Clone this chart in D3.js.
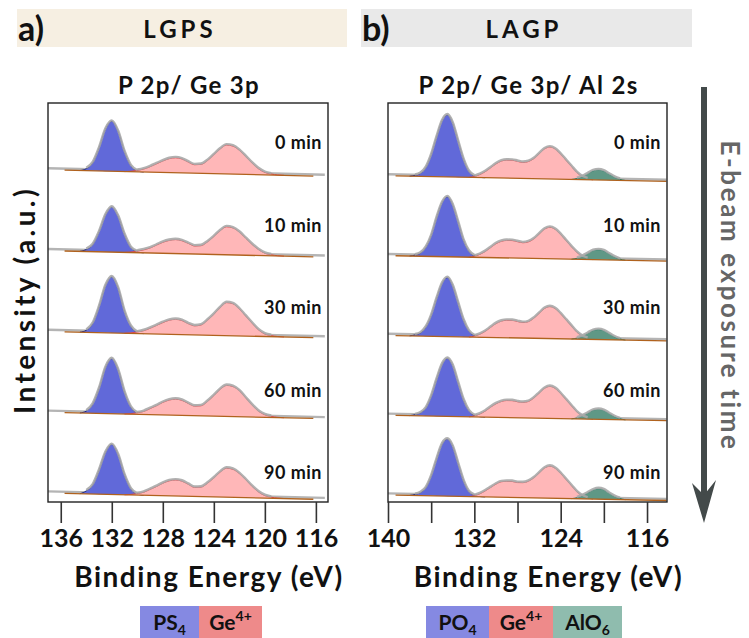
<!DOCTYPE html>
<html>
<head>
<meta charset="utf-8">
<script src="https://cdn.jsdelivr.net/npm/d3@7"></script>
<style>
  body { margin: 0; background: #fff; }
  svg text { font-family: Lato, "Noto Sans", sans-serif; font-weight: 700; }
</style>
</head>
<body>
<div id="chart"></div>
<script>
// exposure times, top to bottom
const times = ["0 min", "10 min", "30 min", "60 min", "90 min"];

// x axis ticks
const ticksA = [136, 132, 128, 124, 120, 116];
const ticksB = [140, 136, 132, 128, 124, 120, 116];
const labelsB = [140, 132, 124, 116];

// LGPS: measured range, background (left/right end) and fitted components
const rangeA = [137, 115.3];
const bgRangeA = [135.7, 116.2];
const bgA = [9, 2.5];

const ps4Energy = [134.5, 134, 133.5, 133, 132.5, 132, 131.5, 131, 130.5, 130, 129.5];
const ps4Counts = [
	[0, 2, 8, 23, 42, 50, 40, 20, 6, 1, 0],
	[0, 2, 7, 20, 37, 45, 36, 18, 5, 1, 0],
	[0, 2, 9, 26, 47, 56, 45, 22, 7, 1, 0],
	[0, 2, 9, 25, 46, 55, 44, 22, 7, 1, 0],
	[0, 3, 9, 24, 42, 50, 40, 20, 6, 1, 0],
];

const geAEnergy = [131, 130.5, 130, 129.5, 129, 128.5, 128, 127.5, 127, 126.5, 126, 125.5, 125,
	124.5, 124, 123.5, 123, 122.5, 122, 121.5, 121, 120.5, 120, 119.5, 119, 118.5];
const geACounts = [
	[0, 0.5, 1.5, 3, 5.5, 8.5, 11.5, 14, 15, 14, 11, 8.5, 9, 13, 19, 25, 29, 28, 24, 18, 11.5, 6, 2.5, 1, 0.3, 0],
	[0, 0.5, 1.5, 3, 5, 8, 11, 13, 14, 13, 10.5, 8, 8.5, 12.5, 18, 24, 28, 27, 23, 17, 11, 6, 2.5, 1, 0.3, 0],
	[0, 0.5, 1.5, 3, 5.5, 8.5, 11.5, 14, 15, 14, 11, 9, 10, 15, 21, 28, 33, 32, 27, 20, 13, 6.5, 2.5, 1, 0.3, 0],
	[0, 0.5, 1.5, 3, 6, 9, 12.5, 15, 16, 15, 12, 9.5, 10, 14.5, 20.5, 27, 31, 30, 26, 19, 12, 6, 2.5, 1, 0.3, 0],
	[0, 0.5, 1.5, 3, 6, 9, 12.5, 15, 16, 15, 12, 9, 9.5, 13.5, 19, 25, 29, 28, 24, 18, 11.5, 6, 2.5, 1, 0.3, 0],
];

// LAGP
const rangeB = [140, 114.2];
const bgRangeB = [139.3, 114.2];
const bgB = [7, 1.5];

const po4Energy = [138, 137.5, 137, 136.5, 136, 135.5, 135, 134.5, 134, 133.5, 133, 132.5, 132, 131.5, 131];
const po4Counts = [
	[0, 1, 3, 9, 22, 40, 56, 62, 54, 36, 18, 6, 1.5, 0.3, 0],
	[0, 1, 3, 9, 21, 39, 54, 60, 52, 35, 17, 6, 1.5, 0.3, 0],
	[0, 1, 3, 9, 21, 38, 53, 59, 51, 34, 17, 6, 1.5, 0.3, 0],
	[0, 1, 3, 8, 20, 37, 52, 58, 51, 34, 17, 6, 1.5, 0.3, 0],
	[0, 1, 3, 8, 20, 37, 52, 57, 50, 33, 16, 5, 1.5, 0.3, 0],
];

const geBEnergy = [132.5, 132, 131.5, 131, 130.5, 130, 129.5, 129, 128.5, 128, 127.5, 127, 126.5,
	126, 125.5, 125, 124.5, 124, 123.5, 123, 122.5, 122, 121.5, 121];
const geBCounts = [
	[0, 1, 3, 6, 10, 14, 17, 18, 18, 17, 16, 17, 20, 25, 30, 32, 30, 25, 19, 13, 7, 3, 1, 0],
	[0, 1, 3, 6, 10, 14, 16.5, 17.5, 17.5, 16.5, 15.5, 16.5, 19.5, 24.5, 29.5, 31.5, 29.5, 24.5, 18.5, 12.5, 7, 3, 1, 0],
	[0, 1, 3, 6, 10, 14, 16.5, 17.5, 17.5, 16.5, 15.5, 16.5, 20, 25, 30, 32, 30, 25, 19, 13, 7, 3, 1, 0],
	[0, 1, 3, 6, 10, 13.5, 16, 17, 17, 16, 15.5, 16.5, 20, 25, 30, 32, 30, 25, 19, 13, 7, 3, 1, 0],
	[0, 1, 3, 6, 9.5, 13, 15.5, 16, 16, 15, 15, 16.5, 20, 25, 30, 32, 30, 25, 19, 13, 7, 3, 1, 0],
];

const alEnergy = [123, 122.5, 122, 121.5, 121, 120.5, 120, 119.5, 119, 118.5, 118];
const alCounts = [
	[0, 1, 3, 6, 9, 10, 9, 6, 3, 1, 0],
	[0, 1, 3, 6, 9, 10, 9, 6, 3, 1, 0],
	[0, 1, 3, 6, 9, 10, 9, 6, 3, 1, 0],
	[0, 1, 3, 6, 9, 10, 9, 6, 3, 1, 0],
	[0, 1, 3, 6, 9, 10.5, 9.5, 6, 3, 1, 0],
];

const W = 749, H = 638;
const svg = d3.select("#chart").append("svg")
	.attr("width", W).attr("height", H)
	.attr("viewBox", `0 0 ${W} ${H}`);

// headers
const headers = [
	{ x: 17, w: 330, fill: "#f6efe2", tag: "a)", name: "LGPS", cx: 180 },
	{ x: 361, w: 331, fill: "#e9e9e9", tag: "b)", name: "LAGP", cx: 524 },
];
headers.forEach(h => {
	svg.append("rect").attr("x", h.x).attr("y", 9).attr("width", h.w).attr("height", 38).attr("fill", h.fill);
	svg.append("text").attr("x", h.x + 1).attr("y", 41).attr("font-size", 34).attr("fill", "#111").text(h.tag);
	svg.append("text").attr("x", h.cx).attr("y", 38).attr("text-anchor", "middle")
		.attr("font-size", 24).attr("letter-spacing", 4).attr("fill", "#111").text(h.name);
});

const plotTop = 103, plotBottom = 502;
const y = d3.scaleLinear().domain([0, 400]).range([plotBottom, plotTop - 1]);
const labelY = d3.scalePoint().domain(times).range([143, 473]);

const drawPanel = ({ left, right, domain, range, bgRange, bg, step, ticks, tickLabels, comps, title }) => {
	const x = d3.scaleLinear().domain(domain).range([left, right]);
	const bgScale = d3.scaleLinear().domain(range).range(bg);
	const g = svg.append("g");

	g.append("text").attr("x", (left + right) / 2 + 1).attr("y", 94).attr("text-anchor", "middle")
		.attr("font-size", 24).attr("letter-spacing", 1.3).attr("fill", "#111").text(title);

	times.forEach((t, i) => {
		const off = (times.length - 1 - i) * step;
		const base = e => off + bgScale(e);

		// raw spectrum in flat regions
		g.append("path")
			.datum(range)
			.attr("d", d3.line().x(e => x(e)).y(e => y(base(e) + 1.6)))
			.attr("fill", "none").attr("stroke", "#b4b4b4").attr("stroke-width", 2.4);

		comps.forEach(c => {
			const pts = c.energy.map((e, k) => [e, c.counts[i][k]]);
			g.append("path")
				.datum(pts)
				.attr("d", d3.area().curve(d3.curveMonotoneX)
					.x(d => x(d[0])).y0(d => y(base(d[0]))).y1(d => y(base(d[0]) + d[1])))
				.attr("fill", c.fill);
			g.append("path")
				.datum(pts)
				.attr("d", d3.line().curve(d3.curveMonotoneX)
					.x(d => x(d[0])).y(d => y(base(d[0]) + d[1])))
				.attr("fill", "none").attr("stroke", c.edge).attr("stroke-width", 1);
		});

		// background
		g.append("path")
			.datum(bgRange)
			.attr("d", d3.line().x(e => x(e)).y(e => y(base(e))))
			.attr("stroke", "#b0621e").attr("stroke-width", 1.3);

		// measured envelope over the peaks
		comps.forEach(c => {
			const pts = c.energy.map((e, k) => [e, c.counts[i][k]]).filter(d => d[1] > 0.8);
			g.append("path")
				.datum(pts)
				.attr("d", d3.line().curve(d3.curveMonotoneX)
					.x(d => x(d[0])).y(d => y(base(d[0]) + d[1] + 0.9)))
				.attr("fill", "none").attr("stroke", "#a9a9a9").attr("stroke-width", 2.4)
				.attr("stroke-opacity", 0.9);
		});

		g.append("text").attr("x", right - 6).attr("y", labelY(t)).attr("dy", "0.36em")
			.attr("text-anchor", "end").attr("font-size", 18).attr("letter-spacing", 0.5)
			.attr("fill", "#111").text(t);
	});

	g.append("rect").attr("x", left).attr("y", plotTop).attr("width", right - left).attr("height", plotBottom - plotTop)
		.attr("fill", "none").attr("stroke", "#222").attr("stroke-width", 1.4);

	const axis = g.append("g").attr("transform", `translate(0,${plotBottom})`)
		.call(d3.axisBottom(x).tickValues(ticks).tickSize(21).tickPadding(6)
			.tickFormat(d => tickLabels.includes(d) ? d : ""));
	axis.select(".domain").remove();
	axis.selectAll(".tick line").attr("stroke", "#333").attr("stroke-width", 1.6);
	axis.selectAll(".tick text").attr("font-size", 25).attr("fill", "#111")
		.attr("font-family", "Lato, sans-serif").attr("font-weight", 700);

	g.append("text").attr("x", (left + right) / 2 + 21).attr("y", 587).attr("text-anchor", "middle")
		.attr("font-size", 28).attr("letter-spacing", 1.5).attr("fill", "#111").text("Binding Energy (eV)");
};

drawPanel({
	left: 48, right: 328, domain: [137, 115.05], range: rangeA, bgRange: bgRangeA, bg: bgA, step: 80.8,
	ticks: ticksA, tickLabels: ticksA, title: "P 2p/ Ge 3p",
	comps: [
		{ energy: ps4Energy, counts: ps4Counts, fill: "#6169d9", edge: "#1b2680" },
		{ energy: geAEnergy, counts: geACounts, fill: "#ffb7b8", edge: "#e0474c" },
	],
});

drawPanel({
	left: 388, right: 667, domain: [140, 114.15], range: rangeB, bgRange: bgRangeB, bg: bgB, step: 79.8,
	ticks: ticksB, tickLabels: labelsB, title: "P 2p/ Ge 3p/ Al 2s",
	comps: [
		{ energy: po4Energy, counts: po4Counts, fill: "#6169d9", edge: "#1b2680" },
		{ energy: geBEnergy, counts: geBCounts, fill: "#ffb7b8", edge: "#e0474c" },
		{ energy: alEnergy, counts: alCounts, fill: "#5f9886", edge: "#1f7a66" },
	],
});

// y label
svg.append("text").attr("transform", "translate(35,300) rotate(-90)").attr("text-anchor", "middle")
	.attr("font-size", 28).attr("letter-spacing", 3.4).attr("fill", "#111").text("Intensity (a.u.)");

// exposure arrow
svg.append("line").attr("x1", 704).attr("x2", 704).attr("y1", 87).attr("y2", 500)
	.attr("stroke", "#434a4a").attr("stroke-width", 6);
svg.append("path").attr("d", "M704,523 L692,483 L704,495 L716,480 Z").attr("fill", "#434a4a");
svg.append("text").attr("transform", "translate(721,296) rotate(90)").attr("text-anchor", "middle")
	.attr("font-size", 26).attr("letter-spacing", 2.6).attr("fill", "#666").text("E-beam exposure time");

// legends
const legendA = [
	{ x: 140, w: 59, fill: "#8589e2", main: "PS", sub: "4" },
	{ x: 199, w: 63, fill: "#ee8a8a", main: "Ge", sup: "4+" },
];
const legendB = [
	{ x: 426, w: 63, fill: "#8589e2", main: "PO", sub: "4" },
	{ x: 489, w: 64, fill: "#ee8a8a", main: "Ge", sup: "4+" },
	{ x: 553, w: 69, fill: "#8fbcae", main: "AlO", sub: "6" },
];
[...legendA, ...legendB].forEach(l => {
	svg.append("rect").attr("x", l.x).attr("y", 606).attr("width", l.w).attr("height", 32).attr("fill", l.fill);
	const t = svg.append("text").attr("x", l.x + l.w / 2).attr("y", 630).attr("text-anchor", "middle")
		.attr("font-size", 21).attr("fill", "#111");
	t.append("tspan").text(l.main);
	if (l.sub) t.append("tspan").attr("font-size", 14).attr("dy", 5).text(l.sub);
	if (l.sup) t.append("tspan").attr("font-size", 14).attr("dy", -9).text(l.sup);
});
</script>
</body>
</html>
